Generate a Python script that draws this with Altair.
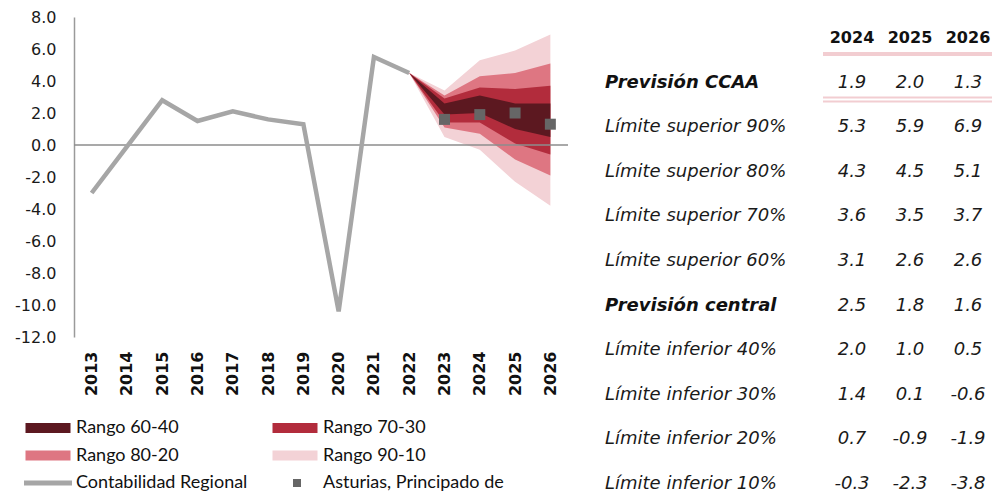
import altair as alt
import pandas as pd

# ---------------- data ----------------
years = [str(y) for y in range(2013, 2027)]
hist_years = [str(y) for y in range(2013, 2023)]
hist_values = [-3.0, -0.1, 2.8, 1.5, 2.1, 1.6, 1.3, -10.4, 5.5, 4.5]

fan_years = ["2022", "2023", "2024", "2025", "2026"]
upper90 = [4.5, 3.4, 5.3, 5.9, 6.9]
upper80 = [4.5, 3.1, 4.3, 4.5, 5.1]
upper70 = [4.5, 2.9, 3.6, 3.5, 3.7]
upper60 = [4.5, 2.6, 3.1, 2.6, 2.6]
lower40 = [4.5, 1.9, 2.0, 1.0, 0.5]
lower30 = [4.5, 1.4, 1.4, 0.1, -0.6]
lower20 = [4.5, 1.1, 0.7, -0.9, -1.9]
lower10 = [4.5, 0.5, -0.3, -2.3, -3.8]

point_years = ["2023", "2024", "2025", "2026"]
point_values = [1.6, 1.9, 2.0, 1.3]

band_names = ["Rango 60-40", "Rango 70-30", "Rango 80-20", "Rango 90-10"]
band_colors = ["#5c1820", "#b22c3c", "#de7682", "#f3d2d6"]
band_lower = [lower40, lower30, lower20, lower10]
band_upper = [upper60, upper70, upper80, upper90]

line_name = "Contabilidad Regional"
point_name = "Asturias, Principado de"

y_ticks = [-12, -10, -8, -6, -4, -2, 0, 2, 4, 6, 8]

table_cols = ["2024", "2025", "2026"]
table_rows = [
    "Previsión CCAA",
    "Límite superior 90%",
    "Límite superior 80%",
    "Límite superior 70%",
    "Límite superior 60%",
    "Previsión central",
    "Límite inferior 40%",
    "Límite inferior 30%",
    "Límite inferior 20%",
    "Límite inferior 10%",
]
table_values = [
    [1.9, 2.0, 1.3],
    [5.3, 5.9, 6.9],
    [4.3, 4.5, 5.1],
    [3.6, 3.5, 3.7],
    [3.1, 2.6, 2.6],
    [2.5, 1.8, 1.6],
    [2.0, 1.0, 0.5],
    [1.4, 0.1, -0.6],
    [0.7, -0.9, -1.9],
    [-0.3, -2.3, -3.8],
]
bold_rows = ["Previsión CCAA", "Previsión central"]

# ---------------- tables ----------------
fan_rows = []
for name, lo, hi in zip(band_names, band_lower, band_upper):
    for yr, l, h in zip(fan_years, lo, hi):
        fan_rows.append({"band": name, "year": yr, "lo": l, "hi": h})
fan_df = pd.DataFrame(fan_rows)
hist_df = pd.DataFrame({"year": hist_years, "value": hist_values})
pts_df = pd.DataFrame({"year": point_years, "value": point_values})
zero_df = pd.DataFrame({"zero": [0]})

AX_FONT = "DejaVu Sans"
LEG_FONT = "Lato"
TAB_FONT = "DejaVu Sans"

x_scale = alt.Scale(type="point", domain=years, padding=0.5)
x_axis = alt.Axis(
    domain=False, ticks=False, grid=False, labelAngle=270,
    labelFont=AX_FONT, labelFontSize=16, labelFontWeight="bold",
    labelColor="#111111", labelPadding=14, title=None,
)
y_scale = alt.Scale(domain=[-12, 8], nice=False, zero=False)
y_axis = alt.Axis(
    values=y_ticks, domain=True, domainColor="#9a9a9a", domainWidth=1.5,
    ticks=False, grid=False, labelFont=AX_FONT, labelFontSize=16,
    labelColor="#1a1a1a", labelPadding=18, title=None,
    labelExpr="datum.value < 0 ? '-' + format(-datum.value, '.1f') : format(datum.value, '.1f')",
)
band_scale = alt.Scale(domain=band_names, range=band_colors)

X = alt.X("year:O", scale=x_scale, axis=x_axis, title=None)

areas = []
for name in reversed(band_names):
    areas.append(
        alt.Chart(fan_df)
        .transform_filter(alt.datum.band == name)
        .mark_area(opacity=1)
        .encode(
            x=X,
            y=alt.Y("lo:Q", scale=y_scale, axis=y_axis, title=None),
            y2="hi:Q",
            color=alt.Color("band:N", scale=band_scale, legend=None),
        )
    )

zero_rule = alt.Chart(zero_df).mark_rule(color="#8c8c8c", strokeWidth=1.5).encode(
    y=alt.Y("zero:Q", scale=y_scale, axis=y_axis, title=None)
)
hist_line = alt.Chart(hist_df).mark_line(color="#a6a6a6", strokeWidth=4.5).encode(
    x=X, y=alt.Y("value:Q", scale=y_scale, axis=y_axis, title=None)
)
pts = alt.Chart(pts_df).mark_square(size=121, color="#666666", opacity=1).encode(
    x=X, y=alt.Y("value:Q", scale=y_scale, axis=y_axis, title=None)
)

plot = alt.layer(*areas, zero_rule, hist_line, pts)

# ---------------- legend ----------------
leg_items = band_names + [line_name, point_name]
leg_df = pd.DataFrame({
    "item": leg_items,
    "col": ["c%d" % (i % 2) for i in range(len(leg_items))],
    "row": ["r%d" % (i // 2) for i in range(len(leg_items))],
})
LX = alt.X("col:N", scale=alt.Scale(type="point", domain=["c0", "c1"], range=[-26, 221], padding=0), axis=None)
LY = alt.Y("row:N", scale=alt.Scale(type="point", domain=["r0", "r1", "r2"], range=[411, 466], padding=0), axis=None)

leg_bands = alt.Chart(leg_df).transform_filter(
    alt.FieldOneOfPredicate(field="item", oneOf=band_names)
).mark_point(shape="M-2.25,-0.5H2.25V0.5H-2.25Z", filled=True, size=400, opacity=1, strokeWidth=0).encode(
    x=LX, y=LY, color=alt.Color("item:N", scale=band_scale, legend=None)
)
leg_line = alt.Chart(leg_df).transform_filter(alt.datum.item == line_name).mark_point(
    shape="M-2.4,-0.25H2.4V0.25H-2.4Z", filled=True, size=400, opacity=1, strokeWidth=0, color="#a6a6a6"
).encode(x=LX, y=LY)
leg_sq = alt.Chart(leg_df).transform_filter(alt.datum.item == point_name).mark_square(
    size=64, color="#666666", opacity=1, xOffset=2
).encode(x=LX, y=LY)
leg_text = alt.Chart(leg_df).mark_text(
    align="left", baseline="middle", dx=28, font=LEG_FONT, fontSize=18, color="#111111"
).encode(x=LX, y=LY, text="item:N")

legend = alt.layer(leg_bands, leg_line, leg_sq, leg_text)

# ---------------- table ----------------
trows = []
for c in table_cols:
    trows.append({"row": "hdr", "col": c, "text": c, "kind": "header"})
for r, vals in zip(table_rows, table_values):
    trows.append({"row": r, "col": "label", "text": r,
                  "kind": "label_bold" if r in bold_rows else "label"})
    for c, v in zip(table_cols, vals):
        trows.append({"row": r, "col": c, "text": f"{v:.1f}", "kind": "value"})
tab_df = pd.DataFrame(trows)

row_domain = ["hdr"] + table_rows
TY = alt.Y("row:N", scale=alt.Scale(type="point", domain=row_domain, range=[21, 467], padding=0), axis=None)
tx_scale = alt.Scale(type="point", domain=["label"] + table_cols, range=[720, 894], padding=0)
TX = alt.X("col:N", scale=tx_scale, axis=None)

t_header = alt.Chart(tab_df).transform_filter(alt.datum.kind == "header").mark_text(
    align="center", baseline="middle", dx=0, font=TAB_FONT, fontSize=16, fontWeight="bold", color="#111111"
).encode(x=TX, y=TY, text="text:N")
t_label = alt.Chart(tab_df).transform_filter(alt.datum.kind == "label").mark_text(
    align="left", baseline="middle", dx=-189, font=TAB_FONT, fontSize=18, fontStyle="italic", color="#1a1a1a"
).encode(x=TX, y=TY, text="text:N")
t_label_b = alt.Chart(tab_df).transform_filter(alt.datum.kind == "label_bold").mark_text(
    align="left", baseline="middle", dx=-189, font=TAB_FONT, fontSize=18, fontStyle="italic",
    fontWeight="bold", color="#111111"
).encode(x=TX, y=TY, text="text:N")
t_values = alt.Chart(tab_df).transform_filter(alt.datum.kind == "value").mark_text(
    align="center", baseline="middle", font=TAB_FONT, fontSize=18, fontStyle="italic", color="#1a1a1a"
).encode(x=TX, y=TY, text="text:N")

sep_df = pd.DataFrame({"row": ["hdr", "Previsión CCAA"], "start": ["2024", "2024"], "end": ["2026", "2026"]})
sep_hdr = alt.Chart(sep_df).transform_filter(alt.datum.row == "hdr").mark_rule(
    color="#f2cdd1", strokeWidth=4, xOffset=-29, x2Offset=34, yOffset=16
).encode(x=alt.X("start:N", scale=tx_scale, axis=None), x2="end:N", y=TY)
sep_a = alt.Chart(sep_df).transform_filter(alt.datum.row == "Previsión CCAA").mark_rule(
    color="#f2cdd1", strokeWidth=2, xOffset=-29, x2Offset=34, yOffset=15
).encode(x=alt.X("start:N", scale=tx_scale, axis=None), x2="end:N", y=TY)
sep_b = alt.Chart(sep_df).transform_filter(alt.datum.row == "Previsión CCAA").mark_rule(
    color="#f2cdd1", strokeWidth=2, xOffset=-29, x2Offset=34, yOffset=19
).encode(x=alt.X("start:N", scale=tx_scale, axis=None), x2="end:N", y=TY)

table = alt.layer(sep_hdr, sep_a, sep_b, t_header, t_label, t_label_b, t_values)

chart = (
    alt.layer(plot, legend, table)
    .resolve_scale(x="independent", y="independent", color="independent")
    .properties(
        width=494, height=320,
        autosize=alt.AutoSizeParams(type="none"),
        padding={"left": 66, "top": 9, "right": 424, "bottom": 155},
        background="white",
    )
    .configure_view(stroke=None)
)

chart.save("out.html", embed_options={"renderer": "svg", "actions": False})
